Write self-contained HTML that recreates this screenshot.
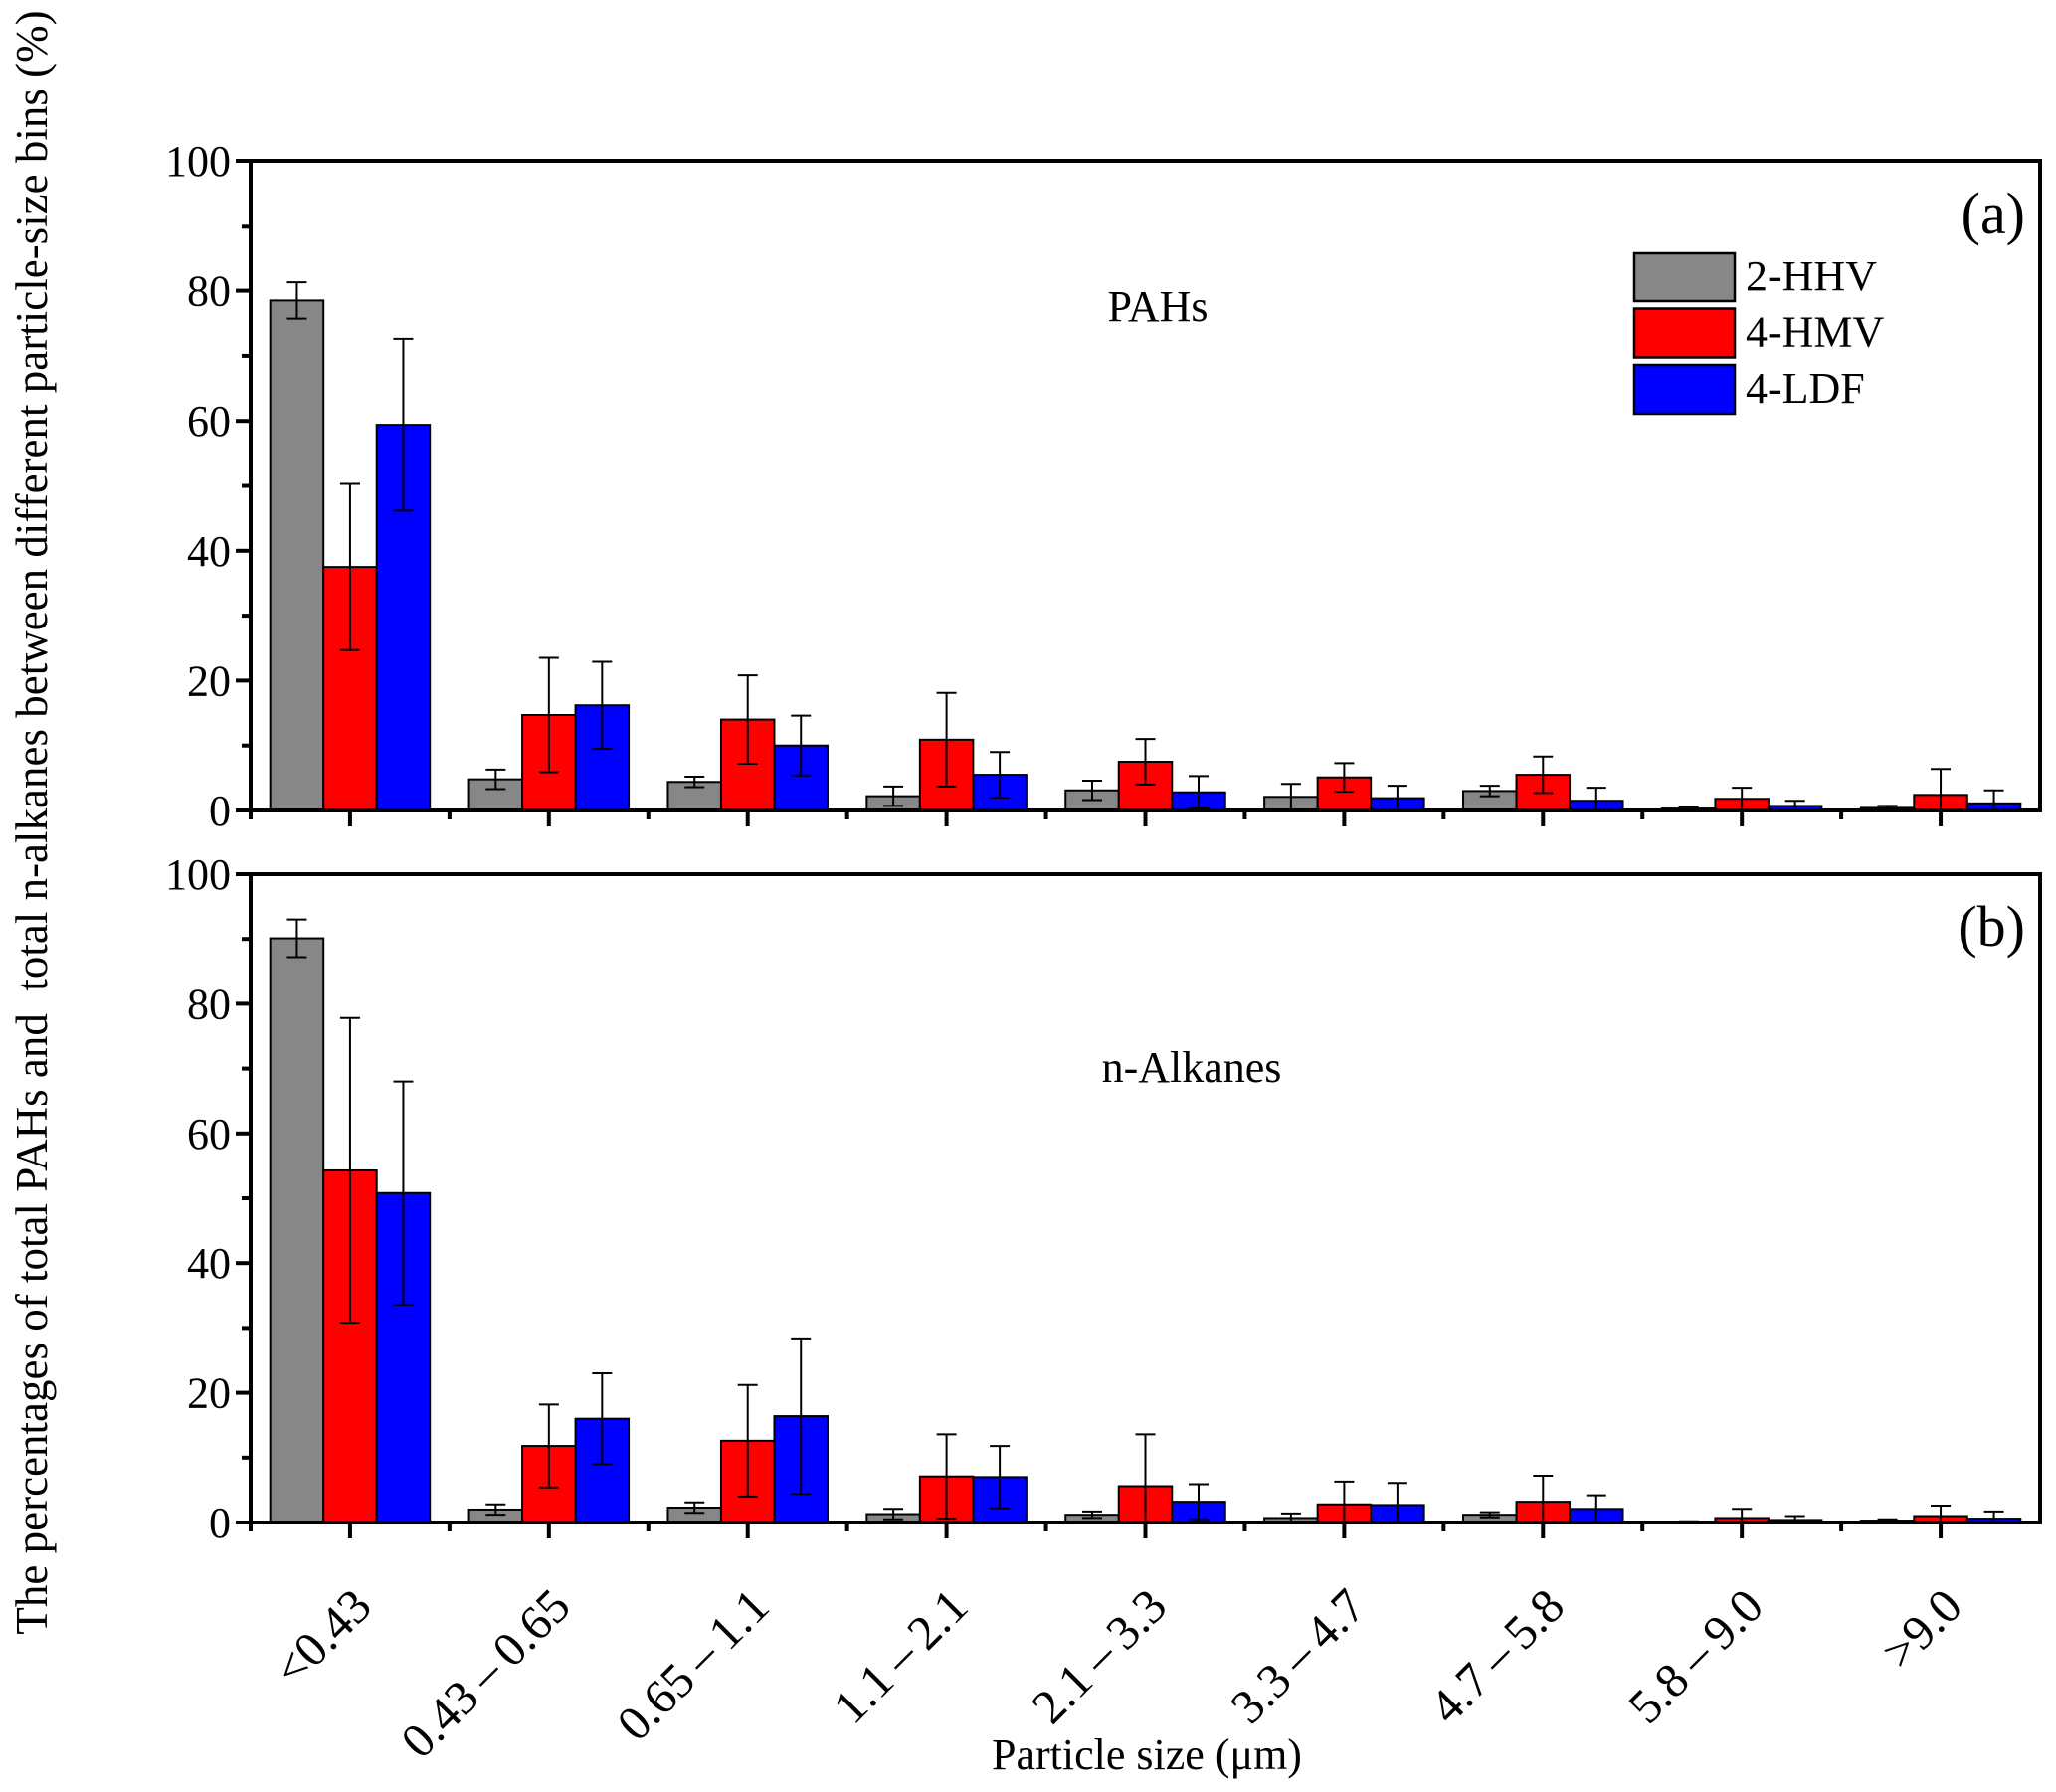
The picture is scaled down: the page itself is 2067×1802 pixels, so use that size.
<!DOCTYPE html>
<html><head><meta charset="utf-8"><style>
html,body{margin:0;padding:0;background:#fff;}
svg{display:block;font-family:"Liberation Serif",serif;}
text{font-family:"Liberation Serif",serif;}
</style></head><body>
<svg id="chart" width="2067" height="1802" viewBox="0 0 2067 1802" xmlns="http://www.w3.org/2000/svg"></svg>
<script>
const categories = ["<0.43","0.43\u2009\u2013\u20090.65","0.65\u2009\u2013\u20091.1","1.1\u2009\u2013\u20092.1","2.1\u2009\u2013\u20093.3","3.3\u2009\u2013\u20094.7","4.7\u2009\u2013\u20095.8","5.8\u2009\u2013\u20099.0",">9.0"];
const seriesNames = ["2-HHV","4-HMV","4-LDF"];
const yTicks = [0,20,40,60,80,100];
const pahHHV = [78.5,4.8,4.4,2.2,3.1,2.1,3.0,0.3,0.4];
const pahHHVErr = [2.8,1.5,0.8,1.5,1.5,2.0,0.8,0.3,0.3];
const pahHMV = [37.5,14.7,14.0,10.9,7.5,5.1,5.5,1.8,2.4];
const pahHMVErr = [12.8,8.8,6.8,7.2,3.5,2.2,2.8,1.7,4.0];
const pahLDF = [59.4,16.2,10.0,5.5,2.8,1.9,1.5,0.7,1.1];
const pahLDFErr = [13.2,6.7,4.6,3.5,2.5,1.9,2.0,0.8,2.0];
const alkHHV = [90.1,2.0,2.3,1.3,1.2,0.7,1.2,0.1,0.3];
const alkHHVErr = [2.9,0.8,0.8,0.8,0.5,0.7,0.4,0.1,0.2];
const alkHMV = [54.3,11.8,12.6,7.1,5.6,2.8,3.2,0.7,1.0];
const alkHMVErr = [23.5,6.4,8.6,6.5,8.0,3.5,4.0,1.4,1.6];
const alkLDF = [50.8,16.0,16.4,7.0,3.2,2.7,2.1,0.4,0.6];
const alkLDFErr = [17.2,7.0,12.0,4.8,2.7,3.4,2.1,0.6,1.1];

const NS="http://www.w3.org/2000/svg";
const svg=document.getElementById('chart');
const colors=["#878787","#ff0000","#0000ff"];
const FF='"Liberation Serif", serif';
const X0=252,X1=2051,W=(X1-X0)/categories.length;
function mk(tag,attrs,parent){const e=document.createElementNS(NS,tag);for(const k in attrs)e.setAttribute(k,attrs[k]);if(tag==='text')e.setAttribute('font-family',FF);(parent||svg).appendChild(e);return e;}

function panel(yTop,yZero,series,errs,tag,label,title,titleX,titleY){
  const g=mk('g',{});
  
  
  const yS=v=>yZero-(v/100)*(yZero-yTop);
  const xC=i=>X0+W*(i+0.5);
  const bw=53.5;
  series.forEach((vals,s)=>{
    vals.forEach((v,i)=>{
      const x=xC(i)+(s-1.5)*bw;
      const r=mk('rect',{x:x,y:yS(v),width:bw,height:yZero-yS(v),fill:colors[s],stroke:'#000','stroke-width':2},g);
      
      
      const e=errs[s][i],cx=x+bw/2;
      const lo=Math.max(0,v-e),hi=v+e;
      const eb=mk('path',{d:`M${cx},${yS(lo)}V${yS(hi)}M${cx-10},${yS(hi)}H${cx+10}`+(v-e>0?`M${cx-10},${yS(lo)}H${cx+10}`:''),stroke:'#000','stroke-width':2,fill:'none'},g);
      
      
    });
  });
  const fr=mk('rect',{x:X0,y:yTop,width:X1-X0,height:yZero-yTop,fill:'none',stroke:'#000','stroke-width':4},g);
  
  
  yTicks.forEach(t=>{
    mk('line',{x1:X0-15,x2:X0,y1:yS(t),y2:yS(t),stroke:'#000','stroke-width':4},g);
    const tx=mk('text',{x:X0-20,y:yS(t)+15,'text-anchor':'end','font-size':44},g);
    tx.textContent=t;
    
    
    if(t<100) mk('line',{x1:X0-9,x2:X0,y1:yS(t+10),y2:yS(t+10),stroke:'#000','stroke-width':4},g);
  });
  categories.forEach((c,i)=>{
    mk('line',{x1:xC(i),x2:xC(i),y1:yZero,y2:yZero+16,stroke:'#000','stroke-width':4},g);
    mk('line',{x1:X0+W*i,x2:X0+W*i,y1:yZero,y2:yZero+9,stroke:'#000','stroke-width':4},g);
  });
  const lb=mk('text',{x:2036,y:yTop+72,'text-anchor':'end','font-size':58},g);
  lb.textContent=label;
  
  
  const tt=mk('text',{x:titleX,y:titleY,'text-anchor':'middle','font-size':44},g);
  tt.textContent=title;
  
  
  return {xC};
}
panel(162,815,[pahHHV,pahHMV,pahLDF],[pahHHVErr,pahHMVErr,pahLDFErr],'a','(a)','PAHs',1164,323);
const pb=panel(879,1531,[alkHHV,alkHMV,alkLDF],[alkHHVErr,alkHMVErr,alkLDFErr],'b','(b)','n-Alkanes',1198,1088);

categories.forEach((c,i)=>{
  const x=pb.xC(i)+24,y=1618;
  const t=mk('text',{x:x,y:y,'text-anchor':'end','font-size':49,transform:`rotate(-45 ${x} ${y})`});
  t.textContent=c;
  
  
});

const lg=mk('g',{});


seriesNames.forEach((n,s)=>{
  const y=254+s*56.5;
  const r=mk('rect',{x:1643,y:y,width:101,height:49,fill:colors[s],stroke:'#000','stroke-width':2.5},lg);
  
  
  const t=mk('text',{x:1755,y:y+38,'font-size':44},lg);
  t.textContent=n;
  
  
});

const xt=mk('text',{x:1153,y:1779,'text-anchor':'middle','font-size':44});
xt.textContent='Particle size (\u03bcm)';


const yt=mk('text',{x:0,y:0,'text-anchor':'middle','font-size':45,transform:'translate(47 827) rotate(-90)'});
yt.textContent='The percentages of total PAHs and\u00a0 total n-alkanes between different particle-size bins (%)';


</script>
</body></html>
